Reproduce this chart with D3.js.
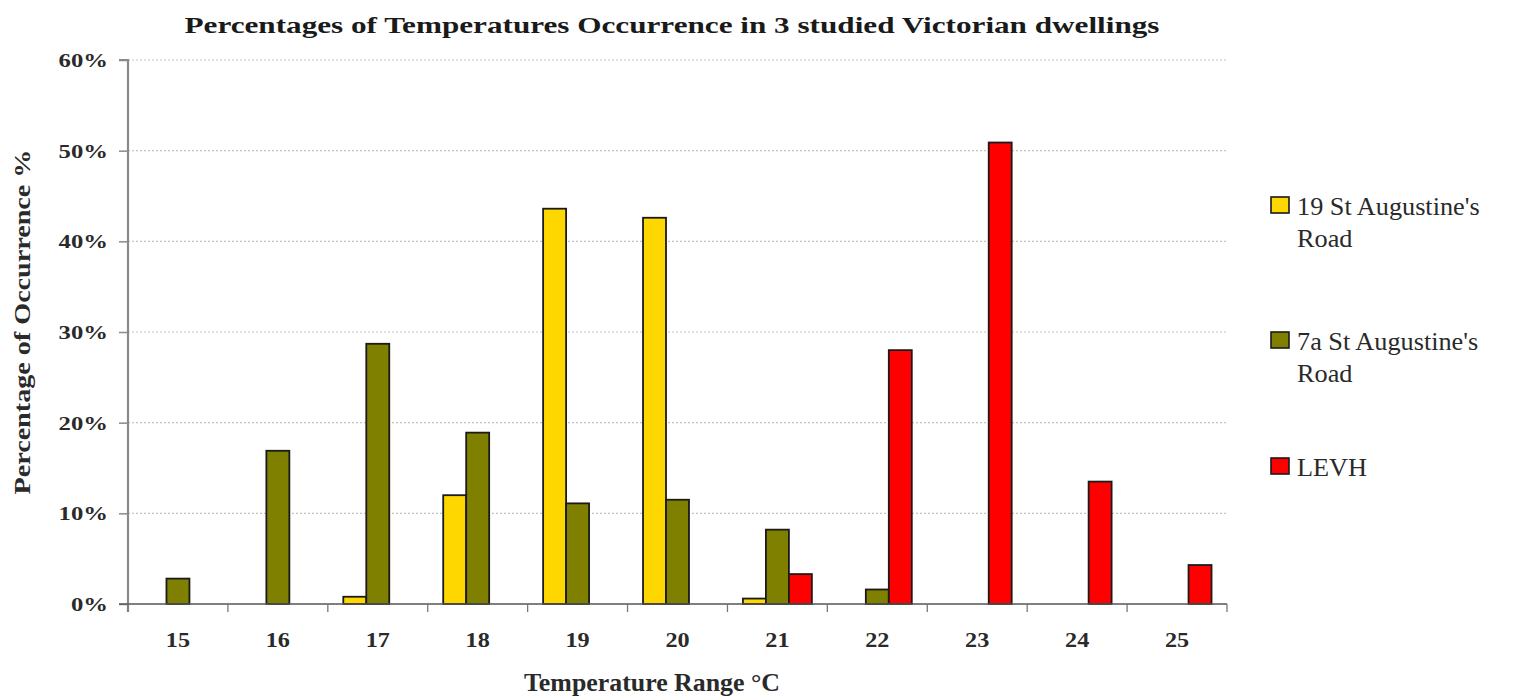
<!DOCTYPE html>
<html>
<head>
<meta charset="utf-8">
<script src="https://cdn.jsdelivr.net/npm/d3@7"></script>
<style>
  html, body { margin: 0; padding: 0; background: #fff; }
  svg text { font-family: "Times New Roman", "Liberation Serif", Tinos, Times, serif; }
</style>
</head>
<body>
<svg id="chart" width="1533" height="698"></svg>
<script>
// Temperature ranges (°C) on the x axis
const categories = ["15", "16", "17", "18", "19", "20", "21", "22", "23", "24", "25"];
// Series names, as shown in the legend
const seriesNames = ["19 St Augustine's Road", "7a St Augustine's Road", "LEVH"];
// Percentage of occurrence for each dwelling, per temperature range
const stAugustine19 = [0, 0, 0.8, 12.0, 43.6, 42.6, 0.6, 0, 0, 0, 0];
const stAugustine7a = [2.8, 16.9, 28.7, 18.9, 11.1, 11.5, 8.2, 1.6, 0, 0, 0];
const levh          = [0, 0, 0, 0, 0, 0, 3.3, 28.0, 50.9, 13.5, 4.3];
// Y-axis tick values (percent)
const yTicks = [0, 10, 20, 30, 40, 50, 60];
const seriesColors = ["#FFD700", "#808000", "#FF0000"];

const svg = d3.select("#chart");
const margin = { left: 128, right: 1227, top: 60, bottom: 604 };

const x0 = d3.scaleBand().domain(categories).range([margin.left, margin.right]).padding(0);
// each group of three bars sits centred in its band, each bar ~23% of the band
const x1 = d3.scaleBand().domain(d3.range(3))
  .range([x0.bandwidth() * 0.155, x0.bandwidth() * 0.845]).padding(0);
const y = d3.scaleLinear().domain([0, 60]).range([margin.bottom, margin.top]);

// stretch a text node horizontally to a factor of its natural width
function stretch(sel, factor) {
  sel.each(function () {
    const w = this.getComputedTextLength();
    d3.select(this).attr("textLength", w * factor).attr("lengthAdjust", "spacingAndGlyphs");
  });
}

// dotted gridlines
svg.append("g")
  .selectAll("line")
  .data(yTicks.filter(d => d > 0))
  .join("line")
  .attr("x1", margin.left).attr("x2", margin.right)
  .attr("y1", d => y(d)).attr("y2", d => y(d))
  .attr("stroke", "#c4c4c4").attr("stroke-width", 1.2)
  .attr("stroke-dasharray", "2,2");

// bars
const series = [stAugustine19, stAugustine7a, levh];
const groups = svg.append("g").selectAll("g")
  .data(categories)
  .join("g")
  .attr("transform", d => `translate(${x0(d)},0)`);

groups.selectAll("rect")
  .data((c, i) => series.map((s, k) => ({ k, v: s[i] })).filter(d => d.v > 0))
  .join("rect")
  .attr("x", d => x1(d.k))
  .attr("width", x1.bandwidth())
  .attr("y", d => y(d.v))
  .attr("height", d => y(0) - y(d.v))
  .attr("fill", d => seriesColors[d.k])
  .attr("stroke", "#1a1a1a")
  .attr("stroke-width", 1.8);

// y axis
const yAxis = svg.append("g")
  .attr("transform", `translate(${margin.left},0)`)
  .call(d3.axisLeft(y).tickValues(yTicks).tickFormat(d => d + "%").tickSize(9).tickPadding(11));
yAxis.attr("font-family", null);
yAxis.select(".domain").attr("stroke", "#8a8a8a").attr("stroke-width", 2.2)
  .attr("d", `M-9,${margin.top}H0V${margin.bottom + 8}`);
yAxis.selectAll(".tick line").attr("stroke", "#8a8a8a").attr("stroke-width", 1.5);
yAxis.selectAll(".tick text")
  .attr("font-weight", "bold")
  .attr("font-size", 19).attr("fill", "#2a2a2a").attr("dy", "0.34em");
stretch(yAxis.selectAll(".tick text"), 1.3);

// x axis: ticks at band boundaries
const xAxisG = svg.append("g").attr("transform", `translate(0,${margin.bottom})`);
xAxisG.append("line")
  .attr("x1", margin.left - 9).attr("x2", margin.right)
  .attr("stroke", "#555").attr("stroke-width", 1.6);
xAxisG.selectAll("line.tk")
  .data(categories.concat(["end"]))
  .join("line").attr("class", "tk")
  .attr("x1", (d, i) => margin.left + i * x0.step())
  .attr("x2", (d, i) => margin.left + i * x0.step())
  .attr("y1", 0).attr("y2", 8)
  .attr("stroke", "#777").attr("stroke-width", 1.3);
const xLabels = xAxisG.selectAll("text")
  .data(categories)
  .join("text")
  .attr("x", d => x0(d) + x0.bandwidth() / 2)
  .attr("y", 43)
  .attr("text-anchor", "middle")
  .attr("font-weight", "bold").attr("font-size", 22).attr("fill", "#2a2a2a")
  .text(d => d);
stretch(xLabels, 1.1);

// chart title
svg.append("text")
  .attr("x", 672).attr("y", 33)
  .attr("text-anchor", "middle")
  .attr("font-weight", "bold").attr("font-size", 24).attr("fill", "#1a1a1a")
  .attr("textLength", 975).attr("lengthAdjust", "spacingAndGlyphs")
  .text("Percentages of Temperatures Occurrence in 3 studied Victorian dwellings");

// x axis title
svg.append("text")
  .attr("x", 652).attr("y", 691)
  .attr("text-anchor", "middle")
  .attr("font-weight", "bold").attr("font-size", 25).attr("fill", "#2a2a2a")
  .attr("textLength", 256).attr("lengthAdjust", "spacingAndGlyphs")
  .text("Temperature Range °C");

// y axis title
svg.append("text")
  .attr("transform", "translate(30,322) rotate(-90)")
  .attr("text-anchor", "middle")
  .attr("font-weight", "bold").attr("font-size", 24).attr("fill", "#2a2a2a")
  .attr("textLength", 345).attr("lengthAdjust", "spacingAndGlyphs")
  .text("Percentage of Occurrence %");

// legend
const legendItems = [
  { lines: ["19 St Augustine's", "Road"], top: 197 },
  { lines: ["7a St Augustine's", "Road"], top: 332 },
  { lines: ["LEVH"], top: 458 }
];
const legend = svg.append("g");
legendItems.forEach((item, i) => {
  legend.append("rect")
    .attr("x", 1271).attr("y", item.top)
    .attr("width", 18).attr("height", 16)
    .attr("fill", seriesColors[i]).attr("stroke", "#1a1a1a").attr("stroke-width", 1.6);
  item.lines.forEach((ln, j) => {
    const t = legend.append("text")
      .attr("x", 1297).attr("y", item.top + 18 + j * 32)
      .attr("font-size", 25).attr("fill", "#2a2a2a")
      .text(ln);
    stretch(t, 1.05);
  });
});
</script>
</body>
</html>
